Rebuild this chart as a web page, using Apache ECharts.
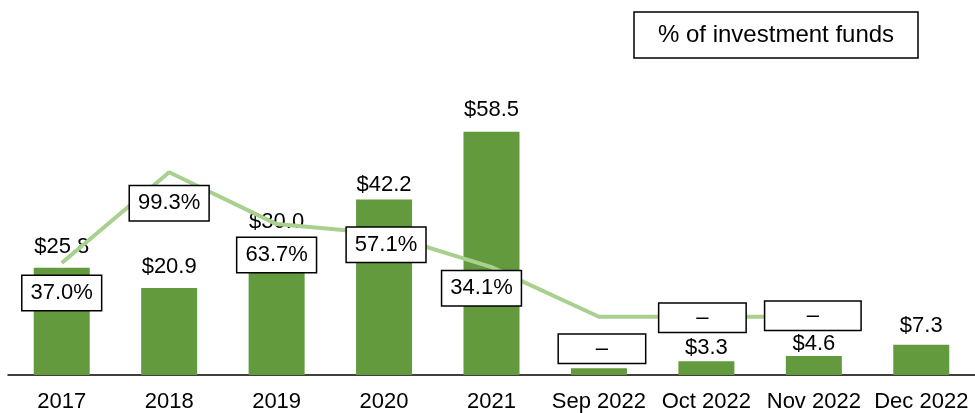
<!DOCTYPE html>
<html>
<head>
<meta charset="utf-8">
<script src="https://cdn.jsdelivr.net/npm/echarts@6/dist/echarts.min.js"></script>
<style>
  html, body { margin: 0; padding: 0; background: #fff; }
  #chart { width: 975px; height: 413px; }
</style>
</head>
<body>
<div id="chart"></div>
<script>
// --- DATEN ---
const categories = ['2017', '2018', '2019', '2020', '2021', 'Sep 2022', 'Oct 2022', 'Nov 2022', 'Dec 2022'];
const fundValues = [25.8, 20.9, 30.0, 42.2, 58.5, 1.6, 3.3, 4.6, 7.3];
const fundLabels = ['$25.8', '$20.9', '$30.0', '$42.2', '$58.5', '', '$3.3', '$4.6', '$7.3'];
const sharePct = [37.0, 99.3, 63.7, 57.1, 34.1, 0, 0, 0, null];
const shareLabels = ['37.0%', '99.3%', '63.7%', '57.1%', '34.1%', '–', '–', '–', ''];

// Lage der Beschriftungen (Feinjustierung wie im Original)
const barLabelShift = [1, 1, -6, 7, 0, 0, 9, 10, 3];
const boxOffsets = [[0, 30], [0, 31], [0, 31], [2, 11], [-10, 21], [3, 32], [-4, 1], [-1, -1], [0, 0]];
const boxWidths = [null, null, null, null, null, 70, 70, 79, null];

const FONT = 'Liberation Sans, Arial, sans-serif';

const chart = echarts.init(document.getElementById('chart'));

const barData = fundValues.map((v, i) => ({
    value: v,
    label: { offset: [0, barLabelShift[i]] }
}));

const lineData = sharePct.map((v, i) => ({
    value: v,
    label: {
        offset: boxOffsets[i],
        width: boxWidths[i],
        padding: boxWidths[i] ? [3, 8] : [6, 8]
    }
}));

chart.setOption({
    backgroundColor: '#fff',
    animation: false,
    textStyle: { fontFamily: FONT },
    title: {
        text: '% of investment funds',
        left: 634,
        top: 12,
        padding: [11, 24],
        borderColor: '#000',
        borderWidth: 1.5,
        textStyle: { fontSize: 24, fontWeight: 'normal', color: '#000', fontFamily: FONT }
    },
    grid: { left: 8, right: 0, top: 84, bottom: 38 },
    xAxis: {
        type: 'category',
        data: categories,
        axisLine: { lineStyle: { color: '#000', width: 1.5 } },
        axisTick: { show: false },
        axisLabel: { color: '#000', fontSize: 22, margin: 16, fontFamily: FONT, interval: 0 }
    },
    yAxis: [
        { type: 'value', min: 0, max: 70, show: false, splitLine: { show: false } },
        { type: 'value', min: -40, max: 160, show: false, splitLine: { show: false } }
    ],
    series: [
        {
            name: 'Funds',
            type: 'bar',
            data: barData,
            barWidth: 56,
            itemStyle: { color: '#629A3D' },
            label: {
                show: true,
                position: 'top',
                distance: 11,
                color: '#000',
                fontSize: 22,
                fontFamily: FONT,
                formatter: p => fundLabels[p.dataIndex]
            }
        },
        {
            name: '% of investment funds',
            type: 'line',
            yAxisIndex: 1,
            data: lineData,
            symbol: 'circle',
            symbolSize: 0,
            showSymbol: true,
            itemStyle: { color: '#A9D08E' },
            lineStyle: { color: '#A9D08E', width: 4 },
            z: 3,
            label: {
                show: true,
                position: 'inside',
                color: '#000',
                fontSize: 22,
                fontFamily: FONT,
                align: 'center',
                backgroundColor: '#fff',
                borderColor: '#000',
                borderWidth: 1.5,
                formatter: p => shareLabels[p.dataIndex]
            }
        }
    ]
});

window.addEventListener('resize', () => chart.resize());
</script>
</body>
</html>
